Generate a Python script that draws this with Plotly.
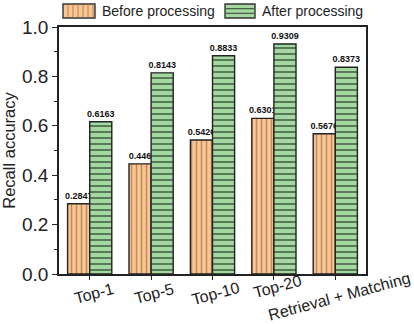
import plotly.graph_objects as go

categories = ["Top-1", "Top-5", "Top-10", "Top-20", "Retrieval + Matching"]
before_vals = [0.2847, 0.446, 0.5426, 0.6301, 0.5676]
after_vals = [0.6163, 0.8143, 0.8833, 0.9309, 0.8373]
series_names = ["Before processing", "After processing"]
y_ticks = [0.0, 0.2, 0.4, 0.6, 0.8, 1.0]

FONT = "Arial, Liberation Sans, sans-serif"
W, H = 414, 324
L, R, T, B = 59, 48, 27, 50
PW, PH = W - L - R, H - T - B

ORANGE_BG = "#FAC694"
ORANGE_FG = "#C08A60"
GREEN_BG = "#A3D8A0"
GREEN_FG = "#3F5A3F"


def px(x):
    return (x - L) / PW


def py(y):
    return (H - B - y) / PH


fig = go.Figure()
fig.add_trace(go.Bar(
    x=categories, y=before_vals, name=series_names[0],
    text=[str(v) for v in before_vals], texttemplate="%{text}",
    marker=dict(color=ORANGE_BG, line=dict(color="#222", width=1.4),
                pattern=dict(shape="|", size=5, solidity=0.3,
                             fgcolor=ORANGE_FG, bgcolor=ORANGE_BG,
                             fillmode="replace")),
    textposition="outside", constraintext="none", cliponaxis=False,
    textfont=dict(family=FONT, size=9, color="#111", weight="bold"),
    showlegend=False,
))
fig.add_trace(go.Bar(
    x=categories, y=after_vals, name=series_names[1],
    text=[str(v) for v in after_vals], texttemplate="%{text}",
    marker=dict(color=GREEN_BG, line=dict(color="#222", width=1.4),
                pattern=dict(shape="-", size=6, solidity=0.25,
                             fgcolor=GREEN_FG, bgcolor=GREEN_BG,
                             fillmode="replace")),
    textposition="outside", constraintext="none", cliponaxis=False,
    textfont=dict(family=FONT, size=9, color="#111", weight="bold"),
    showlegend=False,
))

shapes = []
annotations = []

# custom legend
sw = [(63, 95, ORANGE_BG, "v"), (225, 255, GREEN_BG, "h")]
legend_text_x = [100, 260]
for (x0, x1, col, kind), name, tx in zip(sw, series_names, legend_text_x):
    y0, y1 = 4, 18
    shapes.append(dict(type="rect", xref="paper", yref="paper",
                       x0=px(x0), x1=px(x1), y0=py(y1), y1=py(y0),
                       fillcolor=col, line=dict(color="#333", width=1.4)))
    if kind == "v":
        for xx in range(x0 + 5, x1, 5):
            shapes.append(dict(type="line", xref="paper", yref="paper",
                               x0=px(xx), x1=px(xx), y0=py(y1 - 0.8), y1=py(y0 + 0.8),
                               line=dict(color=ORANGE_FG, width=1.2)))
    else:
        for yy in (y0 + 14 / 3, y0 + 28 / 3):
            shapes.append(dict(type="line", xref="paper", yref="paper",
                               x0=px(x0 + 0.8), x1=px(x1 - 0.8), y0=py(yy), y1=py(yy),
                               line=dict(color=GREEN_FG, width=1.2)))
    annotations.append(dict(text=name, xref="paper", yref="paper",
                            x=px(tx), y=py(11), xanchor="left", yanchor="middle",
                            showarrow=False,
                            font=dict(family=FONT, size=14, color="#222")))

# rotated category labels
label_xshift = [4, 3, 3, 3.5, 3.5]
label_yshift = [-19, -19, -19, -12.5, -22]
for c, dx, dy in zip(categories, label_xshift, label_yshift):
    annotations.append(dict(text=c, x=c, xref="x", yref="paper", y=0,
                            xanchor="center", yanchor="middle",
                            xshift=dx, yshift=dy, textangle=-15,
                            showarrow=False,
                            font=dict(family=FONT, size=16, color="#222")))

fig.update_layout(
    width=W, height=H,
    margin=dict(l=L, r=R, t=T, b=B, autoexpand=False),
    paper_bgcolor="white", plot_bgcolor="white",
    barmode="group", bargap=0.28, bargroupgap=0,
    font=dict(family=FONT, color="#222"),
    shapes=shapes, annotations=annotations,
    showlegend=False,
)
fig.update_xaxes(
    range=[-0.5, 4.5], showticklabels=False,
    ticks="outside", ticklen=4, tickwidth=1.3, tickcolor="#222",
    showline=True, linecolor="#222", linewidth=1.5, mirror=True,
    showgrid=False, zeroline=False,
)
fig.update_yaxes(
    range=[0, 1.0], tickvals=y_ticks, tickformat=".1f",
    ticks="outside", ticklen=5, tickwidth=1.3, tickcolor="#222",
    minor=dict(ticks="outside", ticklen=3, tickwidth=1.1, tickcolor="#222", dtick=0.1),
    tickfont=dict(family=FONT, size=19, color="#222"),
    showline=True, linecolor="#222", linewidth=1.5, mirror=True,
    showgrid=False, zeroline=False,
    title=dict(text="Recall accuracy", font=dict(family=FONT, size=16.5, color="#222"),
               standoff=4),
)

fig.write_html(
    "out.html",
    config={"displayModeBar": False},
    post_script="document.body.style.margin='0';document.body.style.padding='0';",
)
